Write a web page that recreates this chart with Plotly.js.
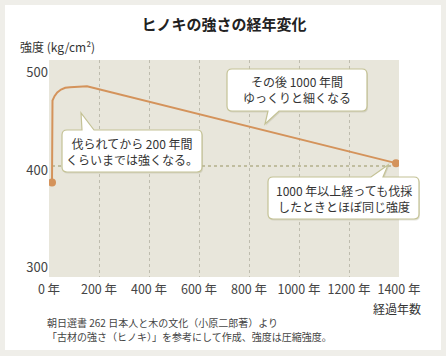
<!DOCTYPE html>
<html><head><meta charset="utf-8">
<script src="https://cdn.plot.ly/plotly-3.0.1.min.js"></script>
<style>html,body{margin:0;padding:0;background:#efeee9;}#chart{width:446px;height:356px;}</style>
</head><body><div id="chart"></div>
<script>
// Data
const years = [12, 12, 14, 22, 33, 48, 65, 84, 152, 1388];
const strength = [383, 462.6, 467.4, 471.8, 475.6, 478.6, 480.4, 481.0, 482.0, 403];
const endYears = [12, 1388];
const endStrength = [383, 403];
const refYears = [12, 1388];
const refStrength = [400, 400];
const xTickVals = [0, 200, 400, 600, 800, 1000, 1200, 1400];
const xTickText = ['0 年', '200 年', '400 年', '600 年', '800 年', '1000 年', '1200 年', '1400 年'];
const yTickVals = [300, 400, 500];
const notes = [
  '伐られてから 200 年間<br>くらいまでは強くなる。',
  'その後 1000 年間<br>ゆっくりと細くなる',
  '1000 年以上経っても伐採<br>したときとほぼ同じ強度'
];
const sourceLines = [
  '朝日選書 262 日本人と木の文化（小原二郎著）より',
  '「古材の強さ（ヒノキ）」を参考にして作成、強度は圧縮強度。'
];

const W = 446, H = 356, L = 49, R = 47, T = 60, B = 79;
const PW = W - L - R, PH = H - T - B;
const px = v => (v - L) / PW;
const py = v => (H - B - v) / PH;
const FONT = '"Noto Sans CJK JP", "Noto Sans", sans-serif';

function callout(x0, y0, x1, y1, r, side, b0, b1, tx, ty) {
  const P = (x, y) => px(x).toFixed(5) + ',' + py(y).toFixed(5);
  let d = 'M' + P(x0 + r, y0);
  if (side === 'top') d += ' L' + P(b0, y0) + ' L' + P(tx, ty) + ' L' + P(b1, y0);
  d += ' L' + P(x1 - r, y0) + ' Q' + P(x1, y0) + ' ' + P(x1, y0 + r);
  d += ' L' + P(x1, y1 - r) + ' Q' + P(x1, y1) + ' ' + P(x1 - r, y1);
  if (side === 'bottom') d += ' L' + P(b1, y1) + ' L' + P(tx, ty) + ' L' + P(b0, y1);
  d += ' L' + P(x0 + r, y1) + ' Q' + P(x0, y1) + ' ' + P(x0, y1 - r);
  d += ' L' + P(x0, y0 + r) + ' Q' + P(x0, y0) + ' ' + P(x0 + r, y0) + ' Z';
  return d;
}
function boxShapes(a) {
  const shadow = callout(a[0] + 1, a[1] + 1.5, a[2] + 1, a[3] + 1.5, a[4], a[5], a[6] + 1, a[7] + 1, a[8] + 1, a[9] + 1.5);
  return [
    {type: 'path', xref: 'paper', yref: 'paper', layer: 'above', path: shadow, fillcolor: 'rgba(150,150,120,0.25)', line: {width: 0}},
    {type: 'path', xref: 'paper', yref: 'paper', layer: 'above', path: callout.apply(null, a), fillcolor: '#ffffff', line: {color: '#c4c295', width: 1.2}}
  ];
}
const boxes = [
  [62, 130, 202, 172, 5, 'top', 82, 94, 81, 113],
  [227, 69, 367, 111, 5, 'bottom', 268, 279, 265, 124],
  [268, 177, 419, 219, 5, 'top', 371, 383, 388, 165]
];
let shapes = [
  {type: 'rect', xref: 'paper', yref: 'paper', layer: 'below', x0: px(5), x1: px(441), y0: py(350), y1: py(5), fillcolor: '#ffffff', line: {width: 0}},
  {type: 'rect', xref: 'paper', yref: 'paper', layer: 'below', x0: 0, x1: 1, y0: 0, y1: 1, fillcolor: '#e8e6db', line: {width: 0}}
];
boxes.forEach(b => { shapes = shapes.concat(boxShapes(b)); });

const noteAnn = boxes.map((b, i) => ({
  xref: 'paper', yref: 'paper', x: px((b[0] + b[2]) / 2), y: py((b[1] + b[3]) / 2),
  xanchor: 'center', yanchor: 'middle', showarrow: false, text: notes[i],
  font: {family: FONT, size: 12, color: '#333333'}
}));
const srcAnn = sourceLines.map((t, i) => ({
  xref: 'paper', yref: 'paper', x: px(45), y: py(322 + 14 * i), xanchor: 'left', yanchor: 'middle', showarrow: false,
  text: t, font: {family: FONT, size: 10, color: '#444444'}
}));

const traces = [
  {x: refYears, y: refStrength, type: 'scatter', mode: 'lines',
   line: {color: '#b3b08c', width: 1.6, dash: 'dot'}, hoverinfo: 'skip'},
  {x: years, y: strength, type: 'scatter', mode: 'lines',
   line: {color: '#d4935b', width: 2}, hoverinfo: 'skip'},
  {x: endYears, y: endStrength, type: 'scatter', mode: 'markers',
   marker: {color: '#d4935b', size: 8}, hoverinfo: 'skip'}
];

const layout = {
  width: W, height: H,
  margin: {l: L, r: R, t: T, b: B, pad: 0},
  paper_bgcolor: '#efeee9', plot_bgcolor: 'rgba(0,0,0,0)',
  showlegend: false,
  font: {family: FONT, color: '#333333'},
  title: {text: '<b>ヒノキの強さの経年変化</b>', x: 0.5, xref: 'paper', xanchor: 'center',
          y: 1 - 25 / H, yref: 'container', yanchor: 'middle',
          font: {family: FONT, size: 15, color: '#222222'}},
  xaxis: {range: [0, 1400], tickvals: xTickVals, ticktext: xTickText, showgrid: true,
          gridcolor: '#bebcae', griddash: 'dot', gridwidth: 1, zeroline: false, showline: false,
          ticks: '', ticklabelstandoff: 3, tickfont: {family: FONT, size: 12.5, color: '#444444'}, fixedrange: true},
  yaxis: {range: [286, 509], tickvals: yTickVals, showgrid: false, zeroline: false, showline: false,
          ticks: '', ticklabelshift: 4, tickfont: {family: FONT, size: 13, color: '#444444'}, fixedrange: true},
  shapes: shapes,
  annotations: noteAnn.concat(srcAnn, [
    {xref: 'paper', yref: 'paper', x: px(18), y: py(47), xanchor: 'left', yanchor: 'middle', showarrow: false,
     text: '強度 (kg/cm²)', font: {family: FONT, size: 12, color: '#333333'}},
    {xref: 'paper', yref: 'paper', x: px(423), y: py(308), xanchor: 'right', yanchor: 'middle', showarrow: false,
     text: '経過年数', font: {family: FONT, size: 12, color: '#333333'}}
  ])
};
Plotly.newPlot('chart', traces, layout, {staticPlot: true, displayModeBar: false});
</script></body></html>
